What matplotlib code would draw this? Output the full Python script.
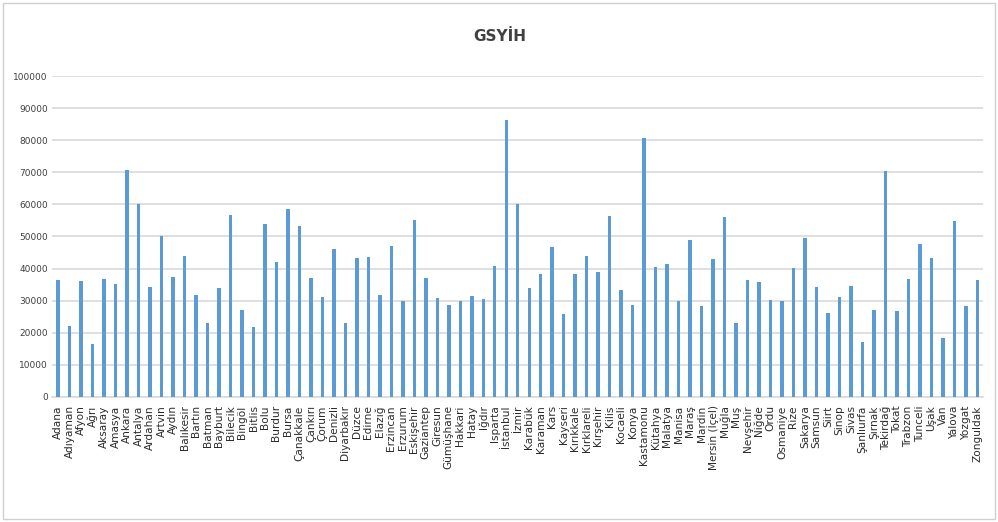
import matplotlib
matplotlib.use("Agg")
import matplotlib.pyplot as plt
from matplotlib.patches import Rectangle

provinces = ["Adana", "Adıyaman", "Afyon", "Ağrı", "Aksaray", "Amasya", "Ankara", "Antalya",
             "Ardahan", "Artvin", "Aydın", "Balıkesir", "Bartın", "Batman", "Bayburt", "Bilecik",
             "Bingöl", "Bitlis", "Bolu", "Burdur", "Bursa", "Çanakkale", "Çankırı", "Çorum",
             "Denizli", "Diyarbakır", "Düzce", "Edirne", "Elazığ", "Erzincan", "Erzurum",
             "Eskişehir", "Gaziantep", "Giresun", "Gümüşhane", "Hakkari", "Hatay", "Iğdır",
             "Isparta", "İstanbul", "İzmir", "Karabük", "Karaman", "Kars", "Kayseri",
             "Kırıkkale", "Kırklareli", "Kırşehir", "Kilis", "Kocaeli", "Konya", "Kastamonu",
             "Kütahya", "Malatya", "Manisa", "Maraş", "Mardin", "Mersin (İçel)", "Muğla", "Muş",
             "Nevşehir", "Niğde", "Ordu", "Osmaniye", "Rize", "Sakarya", "Samsun", "Siirt",
             "Sinop", "Sivas", "Şanlıurfa", "Şırnak", "Tekirdağ", "Tokat", "Trabzon", "Tunceli",
             "Uşak", "Van", "Yalova", "Yozgat", "Zonguldak"]

gsyih = [36500, 22000, 36000, 16500, 36800, 35300, 70700, 60200,
         34300, 50300, 37400, 43900, 31800, 23000, 33800, 56800,
         27000, 21900, 53800, 42200, 58600, 53400, 37100, 31200,
         46100, 23200, 43300, 43600, 31800, 47000, 29800,
         55200, 37100, 30900, 28800, 29800, 31500, 30400,
         40800, 86300, 60200, 33800, 38400, 46600, 25900,
         38400, 43900, 39000, 56500, 33400, 28700, 80800,
         40500, 41400, 30000, 49000, 28400, 42900, 56100, 22900,
         36500, 35700, 30100, 29800, 40200, 49500, 34300, 26300,
         31300, 34600, 17100, 27000, 70400, 26700, 36800, 47700,
         43200, 18400, 54700, 28200, 36300]

yticks = list(range(0, 100001, 10000))

plt.rcParams['font.family'] = ['DejaVu Sans']

fig = plt.figure(figsize=(9.98, 5.22), dpi=100)
fig.patch.set_facecolor("white")
fig.add_artist(Rectangle((0.003, 0.006), 0.994, 0.988, transform=fig.transFigure,
                         fill=False, edgecolor="#D0D0D0", linewidth=1.0))

ax = fig.add_axes([0.052, 0.2395, 0.933, 0.6149])
x = list(range(len(provinces)))
ax.bar(x, gsyih, width=0.3, color="#5B9BD5", zorder=3)

ax.set_xlim(-0.55, 80.5)
ax.set_ylim(0, 100000)
ax.set_yticks(yticks)
ax.set_yticklabels([str(v) for v in yticks], fontsize=6.5, color="#404040")
ax.set_xticks(x)
ax.set_xticklabels(provinces, rotation=90, fontsize=7.6, color="#2b2b2b",
                   va="top")
ax.tick_params(axis="both", length=0, pad=3)
ax.tick_params(axis="x", pad=6)
ax.grid(axis="y", color="#D9D9D9", linewidth=1.2, zorder=0)
for s in ["top", "right", "left"]:
    ax.spines[s].set_visible(False)
ax.spines["bottom"].set_color("#D9D9D9")
ax.spines["bottom"].set_linewidth(1.2)

fig.text(0.501, 0.93, "GSYİH", ha="center", va="center", fontsize=11,
         fontweight="bold", color="#404040", family=["Liberation Sans Narrow", "DejaVu Sans"])

fig.savefig("out.png", dpi=100)
